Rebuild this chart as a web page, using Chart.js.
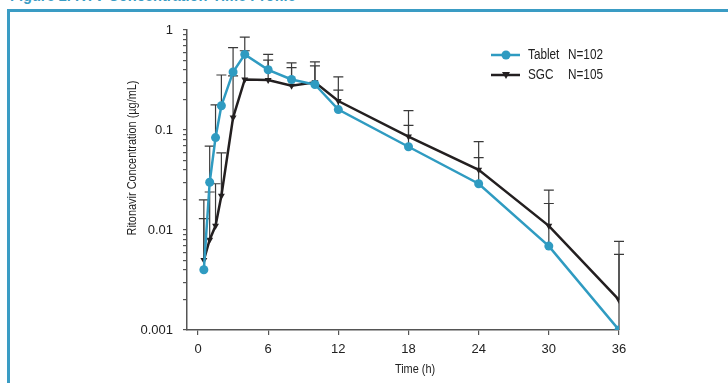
<!DOCTYPE html>
<html><head><meta charset="utf-8">
<script src="https://cdn.jsdelivr.net/npm/chart.js@4/dist/chart.umd.min.js"></script>
<style>
html,body{margin:0;padding:0;background:#fff;width:728px;height:383px;overflow:hidden;position:relative;}
#fig{position:absolute;left:10px;top:-14px;font:bold 17px 'Liberation Sans Narrow','Arial Narrow','Liberation Sans',sans-serif;line-height:20px;color:#3a9cc4;white-space:nowrap;transform:scaleX(0.86);transform-origin:0 0;}
#frame{position:absolute;left:7px;top:9px;width:760px;height:420px;border-left:3px solid #3a9cc4;border-top:3px solid #3a9cc4;}
#c{position:absolute;left:0;top:0;}
</style></head>
<body>
<div id="fig">Figure 2. RTV Concentration-Time Profile</div>
<div id="frame"></div>
<canvas id="c" width="728" height="383"></canvas>
<script>
const FONT = "'Liberation Sans Narrow','Arial Narrow','Liberation Sans',sans-serif";
const times = [0.5, 1, 1.5, 2, 3, 4, 6, 8, 10, 12, 18, 24, 30, 36];
const tabletMean  = [0.004, 0.030, 0.084, 0.175, 0.38, 0.57, 0.40, 0.32, 0.285, 0.16, 0.068, 0.029, 0.0069, 0.001];
const tabletUpper = [0.020, 0.069, 0.178, 0.355, 0.665, 0.85, 0.57, 0.47, 0.437, 0.25, 0.111, 0.053, 0.0184, 0.0057];
const sgcMean  = [0.005, 0.008, 0.011, 0.022, 0.133, 0.32, 0.316, 0.277, 0.30, 0.195, 0.086, 0.040, 0.011, 0.002];
const sgcUpper = [0.013, 0.024, 0.029, 0.059, 0.347, 0.62, 0.50, 0.42, 0.48, 0.34, 0.156, 0.0765, 0.025, 0.0077];
const seriesNames = ['Tablet', 'SGC'];
const seriesN = ['N=102', 'N=105'];
const xTicks = [0, 6, 12, 18, 24, 30, 36];
const yDecades = [0.001, 0.01, 0.1, 1];
const yTickLabels = ['0.001', '0.01', '0.1', '1'];
const xTitle = 'Time (h)';
const yTitle = 'Ritonavir Concentration (\u00b5g/mL)';

const BLUE = '#2f9bc1';
const BLACK = '#231f20';
const SQUEEZE = 0.84;

const yTickValues = [];
for (let d = 0; d < yDecades.length - 1; d++) {
  for (let k = 1; k <= 9; k++) yTickValues.push(+(yDecades[d] * k).toPrecision(3));
}
yTickValues.push(yDecades[yDecades.length - 1]);

const errorBars = {
  id: 'errorBars',
  beforeDatasetsDraw(chart) {
    const {ctx, scales: {x, y}} = chart;
    const sets = [[tabletMean, tabletUpper], [sgcMean, sgcUpper]];
    ctx.save();
    ctx.strokeStyle = '#3a3a3a';
    ctx.lineWidth = 1.2;
    sets.forEach(([m, u]) => {
      times.forEach((t, i) => {
        const px = x.getPixelForValue(t);
        const y0 = y.getPixelForValue(m[i]);
        const y1 = y.getPixelForValue(u[i]);
        ctx.beginPath();
        ctx.moveTo(px, y0); ctx.lineTo(px, y1);
        ctx.moveTo(px - 5, y1); ctx.lineTo(px + 5, y1);
        ctx.stroke();
      });
    });
    ctx.restore();
  }
};

function drawMarker(ctx, style, x, y, color) {
  ctx.fillStyle = color;
  ctx.beginPath();
  if (style === 'circle') {
    ctx.arc(x, y, 4.5, 0, Math.PI * 2);
  } else {
    ctx.moveTo(x - 4, y - 3);
    ctx.lineTo(x + 4, y - 3);
    ctx.lineTo(x, y + 4);
    ctx.closePath();
  }
  ctx.fill();
}

function squeezedText(ctx, text, x, y, align) {
  ctx.save();
  ctx.translate(x, y);
  ctx.scale(SQUEEZE, 1);
  ctx.textAlign = align;
  ctx.fillText(text, 0, 0);
  ctx.restore();
}

const extras = {
  id: 'extras',
  afterDraw(chart) {
    const {ctx} = chart;
    ctx.save();
    ctx.font = '13px ' + FONT;
    ctx.fillStyle = '#222';
    ctx.textBaseline = 'middle';
    ctx.save();
    ctx.translate(132, 158);
    ctx.rotate(-Math.PI / 2);
    squeezedText(ctx, yTitle, 0, 0, 'center');
    ctx.restore();
    squeezedText(ctx, xTitle, (chart.chartArea.left + chart.chartArea.right) / 2 + 12, 369, 'center');
    ctx.restore();
    ctx.save();
    const colors = [BLUE, BLACK];
    const styles = ['circle', 'triangle'];
    ctx.font = '14px ' + FONT;
    ctx.textBaseline = 'middle';
    [55, 75].forEach((ly, i) => {
      ctx.strokeStyle = colors[i];
      ctx.lineWidth = 2.5;
      ctx.beginPath();
      ctx.moveTo(491, ly); ctx.lineTo(520, ly);
      ctx.stroke();
      drawMarker(ctx, styles[i], 506, ly, colors[i]);
      ctx.fillStyle = '#222';
      squeezedText(ctx, seriesNames[i], 528, ly, 'left');
      squeezedText(ctx, seriesN[i], 568, ly, 'left');
    });
    ctx.restore();
  }
};

new Chart(document.getElementById('c'), {
  type: 'line',
  data: {
    datasets: [
      {
        label: seriesNames[0],
        data: times.map((t, i) => ({x: t, y: tabletMean[i]})),
        borderColor: BLUE, backgroundColor: BLUE,
        borderWidth: 2.5, pointRadius: 4.5, pointStyle: 'circle',
        pointBorderWidth: 0, tension: 0
      },
      {
        label: seriesNames[1],
        data: times.map((t, i) => ({x: t, y: sgcMean[i]})),
        borderColor: BLACK, backgroundColor: BLACK,
        borderWidth: 2.5, pointRadius: 4, pointStyle: 'triangle', pointRotation: 180,
        pointBorderWidth: 0, tension: 0
      }
    ]
  },
  options: {
    responsive: false,
    animation: false,
    layout: {padding: {left: 0, right: 109, top: 30, bottom: 0}},
    plugins: {legend: {display: false}, tooltip: {enabled: false}},
    scales: {
      x: {
        type: 'linear', min: -0.94, max: 36,
        afterBuildTicks: s => { s.ticks = xTicks.map(v => ({value: v})); },
        afterFit: s => { s.height = 53; },
        grid: {drawOnChartArea: false, tickLength: 5, color: '#555', lineWidth: 1.2},
        border: {color: '#555', width: 1.5},
        ticks: {font: {family: FONT, size: 13}, color: '#222', padding: 7, maxRotation: 0},
        title: {display: false}
      },
      y: {
        type: 'logarithmic', min: 0.001, max: 1,
        afterBuildTicks: s => { s.ticks = yTickValues.map(v => ({value: v})); },
        afterFit: s => { s.width = 187; },
        grid: {drawOnChartArea: false, tickLength: 4, color: '#555', lineWidth: 1.2},
        border: {color: '#555', width: 1.5},
        ticks: {
          font: {family: FONT, size: 13}, color: '#222', padding: 10, autoSkip: false,
          callback: v => { const k = yDecades.indexOf(v); return k >= 0 ? yTickLabels[k] : ''; }
        }
      }
    }
  },
  plugins: [errorBars, extras]
});
</script>
</body></html>
